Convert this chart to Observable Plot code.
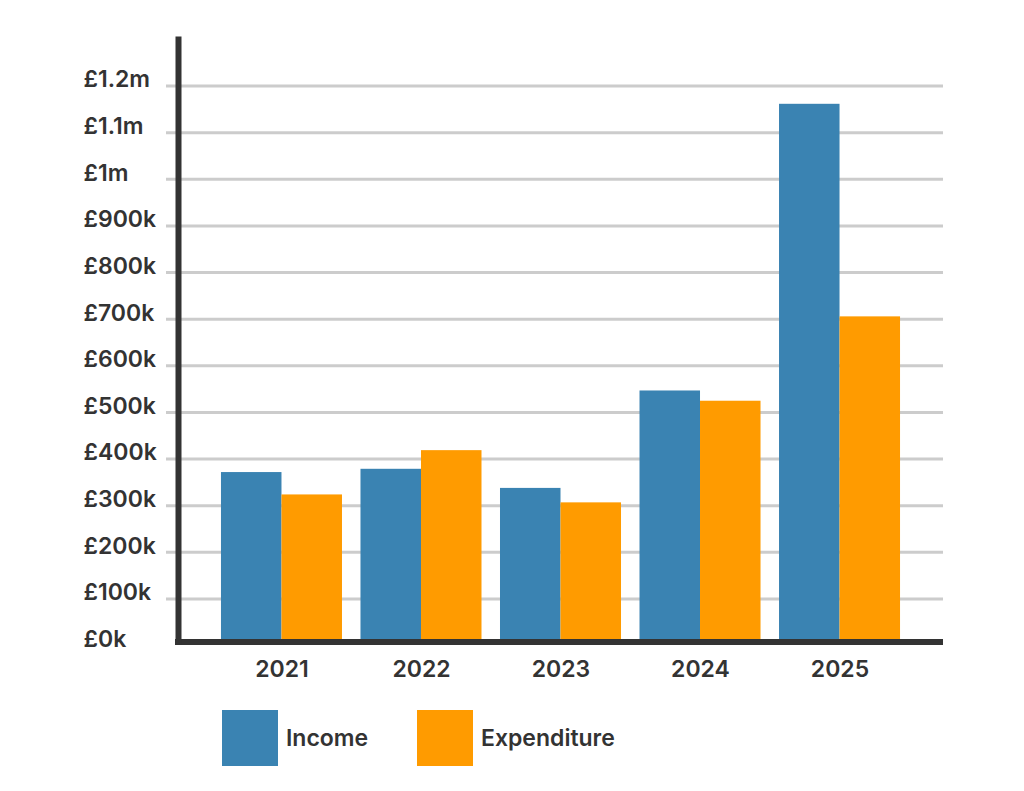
<!DOCTYPE html>
<html>
<head>
<meta charset="utf-8">
<script src="https://cdn.jsdelivr.net/npm/d3@7"></script>
<script src="https://cdn.jsdelivr.net/npm/@observablehq/plot@0.6"></script>
<style>
  html, body { margin: 0; padding: 0; background: #ffffff; }
  body { width: 1024px; height: 791px; overflow: hidden; font-family: Inter, "Open Sans", sans-serif; color: #333333; }
  #chart svg { display: block; }
  .legend { display: flex; align-items: center; padding-left: 222px; margin-top: 10px; }
  .legend .item { display: flex; align-items: center; }
  .legend .item:first-child { width: 195px; }
  .legend .swatch { width: 56px; height: 56px; margin-right: 8px; }
  .legend .label { font-size: 23px; font-weight: 600; color: #333333; }
</style>
</head>
<body>
<div id="chart"></div>
<div class="legend" id="legend"></div>
<script>
const years = ["2021", "2022", "2023", "2024", "2025"];
const income = [371000, 378000, 337000, 546000, 1161000];
const expenditure = [323000, 418000, 306000, 524000, 705000];
const seriesNames = ["Income", "Expenditure"];
const seriesColors = ["#3a83b2", "#ff9b00"];
const yTicks = [0, 100000, 200000, 300000, 400000, 500000, 600000, 700000, 800000, 900000, 1000000, 1100000, 1200000];
const yTickLabels = ["£0k", "£100k", "£200k", "£300k", "£400k", "£500k", "£600k", "£700k", "£800k", "£900k", "£1m", "£1.1m", "£1.2m"];

const W = 1024, H = 700;
const mL = 178, mR = 81, mT = 39, mB = 55;
const padInner = 0.1326, padOuter = 0.308;

const bandwidth = d3.scaleBand().domain(years).range([mL, W - mR])
  .paddingInner(padInner).paddingOuter(padOuter).bandwidth();

const incomeRows = years.map((y, i) => ({year: y, value: income[i]}));
const expRows = years.map((y, i) => ({year: y, value: expenditure[i]}));

const chart = Plot.plot({
  width: W,
  height: H,
  marginLeft: mL,
  marginRight: mR,
  marginTop: mT,
  marginBottom: mB,
  style: {fontFamily: "Inter, 'Open Sans', sans-serif", background: "#ffffff", color: "#333333"},
  x: {type: "band", domain: years, paddingInner: padInner, paddingOuter: padOuter, round: false},
  y: {domain: [0, 1300000], axis: null},
  marks: [
    Plot.ruleY(yTicks.filter(d => d > 0), {stroke: "#cccccc", strokeWidth: 3, insetLeft: -12}),
    Plot.barY(incomeRows, {x: "year", y: "value", fill: seriesColors[0], insetRight: bandwidth / 2}),
    Plot.barY(expRows, {x: "year", y: "value", fill: seriesColors[1], insetLeft: bandwidth / 2}),
    Plot.ruleY([0], {stroke: "#333333", strokeWidth: 6, dy: -3.5, insetLeft: -3}),
    Plot.frame({anchor: "left", stroke: "#333333", strokeWidth: 6, insetBottom: 4}),
    Plot.text(yTicks, {
      y: d => d,
      text: (d, i) => yTickLabels[i],
      frameAnchor: "left",
      textAnchor: "start",
      lineAnchor: "middle",
      dx: -95,
      dy: -6,
      fontSize: 23,
      fontWeight: 600,
      fill: "#333333"
    }),
    Plot.axisX({tickSize: 0, tickPadding: 15, fontSize: 23, fontWeight: 600, label: null, fill: "#333333"})
  ]
});
document.getElementById("chart").appendChild(chart);

const legend = document.getElementById("legend");
seriesNames.forEach((name, i) => {
  const item = document.createElement("div");
  item.className = "item";
  const sw = document.createElement("div");
  sw.className = "swatch";
  sw.style.background = seriesColors[i];
  const lab = document.createElement("span");
  lab.className = "label";
  lab.textContent = name;
  item.appendChild(sw);
  item.appendChild(lab);
  legend.appendChild(item);
});
</script>
</body>
</html>
